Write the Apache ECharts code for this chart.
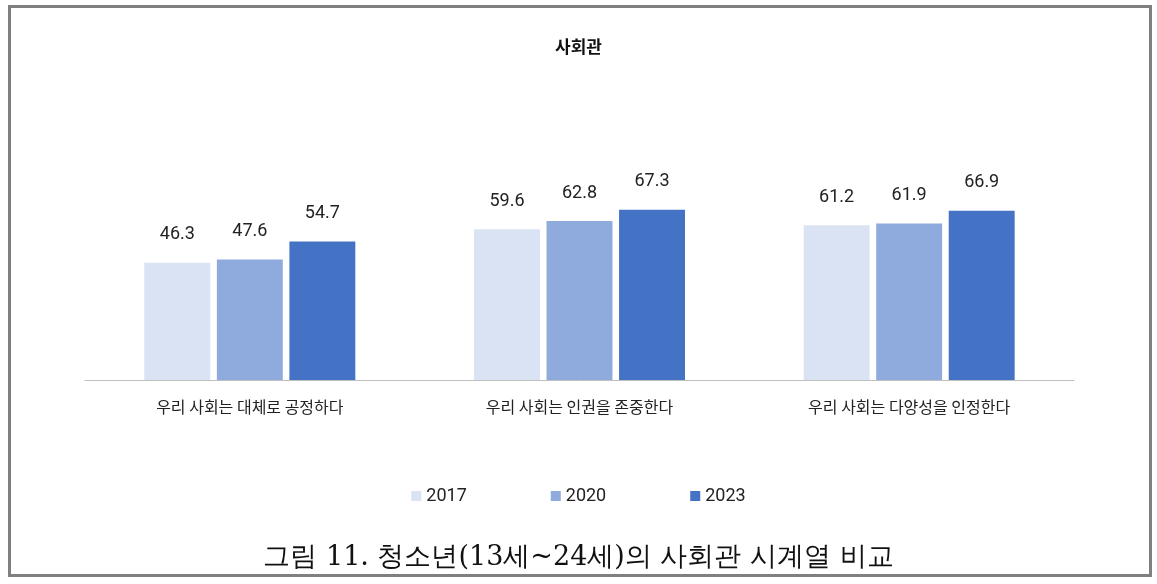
<!DOCTYPE html>
<html>
<head>
<meta charset="utf-8">
<script src="https://cdn.jsdelivr.net/npm/echarts@6/dist/echarts.min.js"></script>
<style>
  html, body { margin: 0; padding: 0; background: #fff; }
  #chart { width: 1157px; height: 584px; }
</style>
</head>
<body>
<div id="chart"></div>
<script>
// 항목 (x축)
const categories = ['우리 사회는 대체로 공정하다', '우리 사회는 인권을 존중한다', '우리 사회는 다양성을 인정한다'];
// 연도별 값
const years = ['2017', '2020', '2023'];
const values2017 = [46.3, 59.6, 61.2];
const values2020 = [47.6, 62.8, 61.9];
const values2023 = [54.7, 67.3, 66.9];
const colors = ['#dae3f3', '#8faadc', '#4472c4'];

const chart = echarts.init(document.getElementById('chart'));

const numFont = 'Roboto, "Noto Sans", sans-serif';
const krFont = '"Noto Sans CJK KR", "Noto Sans", sans-serif';

function makeSeries(name, data, color) {
  return {
    name: name,
    type: 'bar',
    data: data,
    barWidth: '20%',
    barGap: '10%',
    itemStyle: { color: color },
    label: {
      show: true,
      position: 'top',
      distance: 19,
      color: '#222',
      fontSize: 18,
      fontFamily: numFont
    }
  };
}

const option = {
  animation: false,
  backgroundColor: '#fff',
  title: [{
    text: '사회관',
    left: 'center',
    top: 33,
    textStyle: { fontSize: 17, fontWeight: 'bold', color: '#111', fontFamily: krFont }
  }, {
    text: '그림 11. 청소년(13세~24세)의 사회관 시계열 비교',
    left: 'center',
    top: 539,
    textStyle: { fontSize: 27, fontWeight: 'normal', color: '#111', fontFamily: '"DejaVu Serif", serif' }
  }],
  legend: {
    data: years,
    left: 'center',
    top: 482,
    itemWidth: 10,
    itemHeight: 10,
    itemGap: 84,
    icon: 'rect',
    textStyle: { fontSize: 18, color: '#222', fontFamily: numFont }
  },
  grid: { left: 85, right: 83, top: 127, bottom: 204 },
  xAxis: {
    type: 'category',
    data: categories,
    axisLine: { lineStyle: { color: '#bfbfbf', width: 1 } },
    axisTick: { show: false },
    axisLabel: { margin: 19, fontSize: 16, color: '#222', fontFamily: krFont }
  },
  yAxis: {
    type: 'value',
    min: 0,
    max: 100,
    show: false
  },
  series: [
    makeSeries(years[0], values2017, colors[0]),
    makeSeries(years[1], values2020, colors[1]),
    makeSeries(years[2], values2023, colors[2])
  ],
  graphic: [{
    type: 'rect',
    shape: { x: 9.5, y: 6.5, width: 1141, height: 569 },
    style: { fill: 'none', stroke: '#808080', lineWidth: 3 },
    silent: true
  }]
};

chart.setOption(option);
</script>
</body>
</html>
